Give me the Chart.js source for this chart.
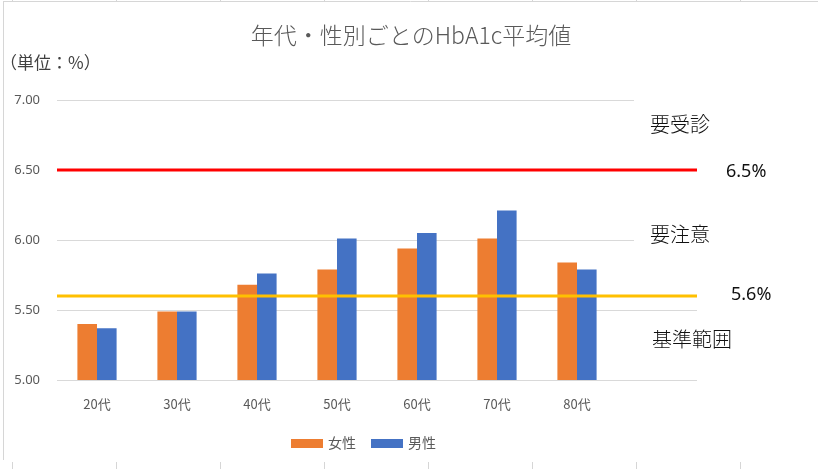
<!DOCTYPE html>
<html>
<head>
<meta charset="utf-8">
<script src="https://cdn.jsdelivr.net/npm/chart.js@4"></script>
<style>
  html, body { margin: 0; padding: 0; background: #fff; }
  #wrap { width: 818px; height: 469px; }
</style>
</head>
<body>
<div id="wrap"><canvas id="chart" width="818" height="469"></canvas></div>
<script>
// データ
const categories = ['20代', '30代', '40代', '50代', '60代', '70代', '80代'];
const female = [5.40, 5.49, 5.68, 5.79, 5.94, 6.01, 5.84];
const male = [5.37, 5.49, 5.76, 6.01, 6.05, 6.21, 5.79];
const yTicks = [5.00, 5.50, 6.00, 6.50, 7.00];
const thresholds = [6.5, 5.6];
const thresholdLabels = ['6.5%', '5.6%'];
const zoneLabels = ['要受診', '要注意', '基準範囲'];

const JP = '"Noto Sans CJK JP", "Noto Sans", sans-serif';
const gray = '#595959';

const decor = {
  id: 'decor',
  beforeDraw(chart) {
    const ctx = chart.ctx;
    ctx.save();
    ctx.fillStyle = '#fff';
    ctx.fillRect(0, 0, chart.width, chart.height);
    // エクセルのセル線
    ctx.strokeStyle = '#d6d6d6';
    ctx.lineWidth = 1;
    ctx.beginPath();
    ctx.moveTo(3, 1.5); ctx.lineTo(818, 1.5);
    ctx.moveTo(3.5, 1); ctx.lineTo(3.5, 460);
    for (let x = 12; x < 818; x += 104) {
      ctx.moveTo(x + 0.5, 0); ctx.lineTo(x + 0.5, 2);
      ctx.moveTo(x + 0.5, 462); ctx.lineTo(x + 0.5, 469);
    }
    ctx.stroke();
    ctx.restore();
  },
  beforeDatasetsDraw(chart) {
    const ctx = chart.ctx, y = chart.scales.y, a = chart.chartArea;
    ctx.save();
    ctx.strokeStyle = '#d9d9d9';
    ctx.lineWidth = 1;
    ctx.beginPath();
    yTicks.forEach(v => {
      const py = Math.round(y.getPixelForValue(v)) + 0.5;
      ctx.moveTo(a.right, py); ctx.lineTo(697, py);
    });
    ctx.stroke();
    ctx.restore();
  },
  afterDatasetsDraw(chart) {
    const ctx = chart.ctx, y = chart.scales.y, a = chart.chartArea;
    const colors = ['#ff0000', '#ffc000'];
    ctx.save();
    ctx.lineWidth = 3;
    thresholds.forEach((t, i) => {
      const py = y.getPixelForValue(t);
      ctx.strokeStyle = colors[i];
      ctx.beginPath();
      ctx.moveTo(a.left, py); ctx.lineTo(697, py);
      ctx.stroke();
    });
    ctx.restore();
  },
  afterDraw(chart) {
    const ctx = chart.ctx, y = chart.scales.y;
    ctx.save();
    // テキストボックス（白塗り）
    ctx.fillStyle = '#fff';
    ctx.fillRect(634, 94, 90, 56);
    ctx.fillRect(634, 214, 90, 46);

    ctx.fillStyle = gray;
    ctx.font = '300 23px ' + JP;
    ctx.textAlign = 'center';
    ctx.textBaseline = 'middle';
    ctx.fillText('年代・性別ごとのHbA1c平均値', 411, 35);

    ctx.fillStyle = '#404040';
    ctx.font = '17px ' + JP;
    ctx.textAlign = 'left';
    ctx.fillText('（単位：%）', 0, 63);

    ctx.fillStyle = '#111';
    ctx.font = '300 20px ' + JP;
    ctx.fillText(zoneLabels[0], 650, 124);
    ctx.fillText(zoneLabels[1], 650, 234);
    ctx.fillText(zoneLabels[2], 652, 339);

    ctx.font = '18px "Noto Sans", sans-serif';
    ctx.fillText(thresholdLabels[0], 726, y.getPixelForValue(thresholds[0]) + 2);
    ctx.fillText(thresholdLabels[1], 731, y.getPixelForValue(thresholds[1]) - 1);

    // 凡例
    ctx.font = '14px ' + JP;
    let x = 291;
    chart.data.datasets.forEach(ds => {
      ctx.fillStyle = ds.backgroundColor;
      ctx.fillRect(x, 439, 32, 9);
      ctx.fillStyle = gray;
      ctx.fillText(ds.label, x + 37, 443);
      x += 80;
    });
    ctx.restore();
  }
};

new Chart(document.getElementById('chart'), {
  type: 'bar',
  data: {
    labels: categories,
    datasets: [
      { label: '女性', data: female, backgroundColor: '#ed7d31', categoryPercentage: 0.49, barPercentage: 1.0 },
      { label: '男性', data: male, backgroundColor: '#4472c4', categoryPercentage: 0.49, barPercentage: 1.0 }
    ]
  },
  options: {
    responsive: false,
    animation: false,
    layout: { padding: { left: 0, right: 201, top: 100, bottom: 0 } },
    plugins: {
      legend: { display: false },
      title: { display: false },
      tooltip: { enabled: false }
    },
    scales: {
      x: {
        grid: { display: false, drawTicks: false },
        border: { display: false },
        ticks: { color: gray, font: { size: 13, family: JP }, padding: 16 },
        afterFit(s) { s.height = 89; }
      },
      y: {
        min: 5, max: 7,
        afterBuildTicks(s) { s.ticks = yTicks.map(v => ({ value: v })); },
        grid: { color: '#d9d9d9', drawTicks: false },
        border: { display: false },
        ticks: {
          color: gray, font: { size: 13, family: '"Noto Sans", sans-serif' }, padding: 17,
          callback: v => Number(v).toFixed(2)
        },
        afterFit(s) { s.width = 57; }
      }
    }
  },
  plugins: [decor]
});
</script>
</body>
</html>
